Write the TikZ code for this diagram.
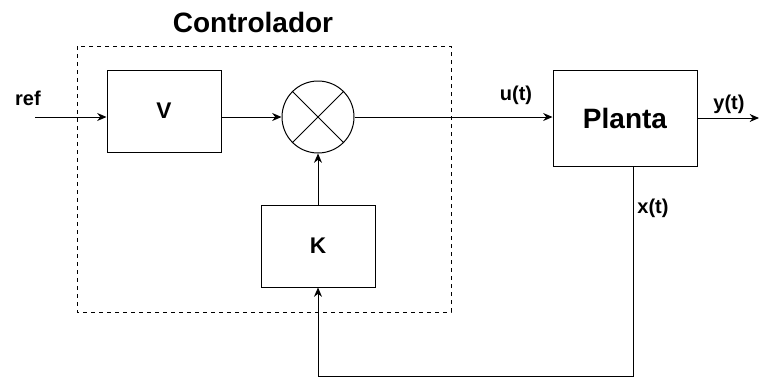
\documentclass[tikz,border=0pt]{standalone}
\usepackage{fontspec}
\setmainfont{Liberation Sans}
\usetikzlibrary{positioning, arrows.meta, calc}

\tikzset{
  block/.style={draw, line width=0.75pt, minimum width=85.5pt, minimum height=61.5pt, font=\fontsize{17}{20}\selectfont\bfseries},
  sig/.style={draw, line width=0.75pt, -{Stealth[length=7pt, width=6pt]}},
  lbl/.style={font=\fontsize{15}{18}\selectfont\bfseries, inner sep=0pt}
}

\begin{document}
\begin{tikzpicture}[x=0.75pt, y=-0.75pt]
  \useasboundingbox (0,0) rectangle (759,379);

  % controller frame
  \draw[dashed, line width=0.75pt] (77,46) rectangle (451,312);
  \node (ctl) at (253,22) {\fontsize{21}{25}\selectfont\bfseries Controlador};

  % blocks
  \node[block] (V) at (164,111) {V};
  \node[draw, circle, line width=0.75pt, minimum size=54pt, inner sep=0pt] (mul) at (318,117) {};
  \draw[line width=0.75pt] (mul.north west) -- (mul.south east);
  \draw[line width=0.75pt] (mul.north east) -- (mul.south west);
  \node[block] (K) at (318,246) {K};
  \node[block, minimum width=108pt, minimum height=72pt, font=\fontsize{21}{25}\selectfont\bfseries] (plant) at (625,118) {Planta};

  % signals
  \coordinate (in) at (35,117);
  \coordinate (out) at (759,118);
  \coordinate (fb) at (633,376);
  \node[lbl] (ref) at (28,98) {ref};
  \draw[sig] (in) -- (in -| V.west);
  \draw[sig] (V.east |- mul) -- (mul.west);
  \draw[sig] (mul.east) -- (plant.west |- mul);
  \node[lbl] (u) at (516,95) {u(t)};
  \draw[sig] (plant.east) -- (out);
  \node[lbl] (y) at (729,104) {y(t)};
  \draw[sig] (K.north) -- (mul.south);
  \draw[sig] (plant.south -| fb) -- (fb) -| (K.south);
  \node[lbl] (x) at (653,208) {x(t)};
\end{tikzpicture}
\end{document}
